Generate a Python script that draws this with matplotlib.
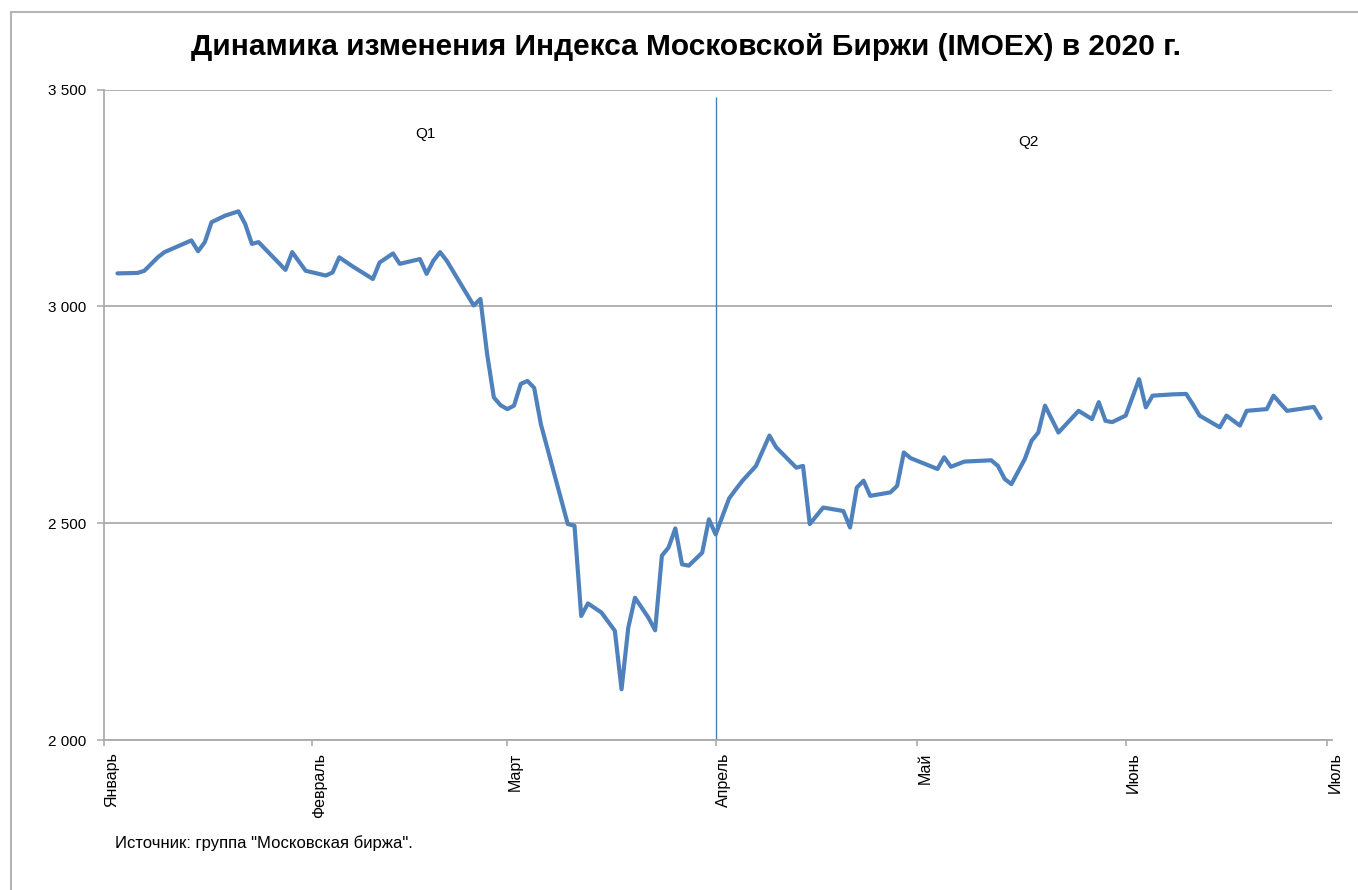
import matplotlib
matplotlib.use("Agg")
import matplotlib.pyplot as plt
import matplotlib.dates as mdates
import matplotlib.ticker as mticker
import pandas as pd
from matplotlib.patches import Rectangle

# IMOEX close
dates = [
    "2020-01-03", "2020-01-06", "2020-01-07", "2020-01-09", "2020-01-10",
    "2020-01-14", "2020-01-15", "2020-01-16", "2020-01-17", "2020-01-19",
    "2020-01-21", "2020-01-22", "2020-01-23", "2020-01-24", "2020-01-28",
    "2020-01-29", "2020-01-31", "2020-02-03", "2020-02-04", "2020-02-05",
    "2020-02-07", "2020-02-10", "2020-02-11", "2020-02-13", "2020-02-14",
    "2020-02-17", "2020-02-18", "2020-02-19", "2020-02-20", "2020-02-21",
    "2020-02-25", "2020-02-26", "2020-02-27", "2020-02-28", "2020-02-29",
    "2020-03-01", "2020-03-02", "2020-03-03", "2020-03-04", "2020-03-05",
    "2020-03-06", "2020-03-10", "2020-03-11", "2020-03-12", "2020-03-13",
    "2020-03-15", "2020-03-17", "2020-03-18", "2020-03-19", "2020-03-20",
    "2020-03-22", "2020-03-23", "2020-03-24", "2020-03-25", "2020-03-26",
    "2020-03-27", "2020-03-28", "2020-03-30", "2020-03-31", "2020-04-01",
    "2020-04-03", "2020-04-04", "2020-04-05", "2020-04-07", "2020-04-09",
    "2020-04-10", "2020-04-13", "2020-04-14", "2020-04-15", "2020-04-17",
    "2020-04-20", "2020-04-21", "2020-04-22", "2020-04-23", "2020-04-24",
    "2020-04-27", "2020-04-28", "2020-04-29", "2020-04-30", "2020-05-04",
    "2020-05-05", "2020-05-06", "2020-05-08", "2020-05-12", "2020-05-13",
    "2020-05-14", "2020-05-15", "2020-05-17", "2020-05-18", "2020-05-19",
    "2020-05-20", "2020-05-22", "2020-05-25", "2020-05-27", "2020-05-28",
    "2020-05-29", "2020-05-30", "2020-06-01", "2020-06-03", "2020-06-04",
    "2020-06-05", "2020-06-08", "2020-06-10", "2020-06-11", "2020-06-12",
    "2020-06-15", "2020-06-16", "2020-06-18", "2020-06-19", "2020-06-22",
    "2020-06-23", "2020-06-25", "2020-06-29", "2020-06-30",
]
values = [
    3076, 3077, 3082, 3113, 3125,
    3152, 3127, 3148, 3194, 3209,
    3219, 3190, 3144, 3148, 3084,
    3125, 3082, 3071, 3078, 3113,
    3092, 3063, 3101, 3122, 3098,
    3109, 3075, 3105, 3125, 3105,
    3002, 3017, 2890, 2790, 2772,
    2763, 2771, 2821, 2828, 2812,
    2728, 2498, 2494, 2286, 2315,
    2294, 2252, 2117, 2259, 2328,
    2282, 2253, 2425, 2444, 2488,
    2405, 2402, 2432, 2509, 2474,
    2557, 2578, 2598, 2632, 2702,
    2675, 2628, 2632, 2498, 2536,
    2528, 2490, 2582, 2598, 2563,
    2571, 2586, 2663, 2650, 2625,
    2652, 2630, 2642, 2645, 2632,
    2602, 2590, 2648, 2690, 2709,
    2771, 2709, 2759, 2740, 2779,
    2736, 2733, 2748, 2832, 2767,
    2794, 2797, 2798, 2774, 2748,
    2721, 2748, 2725, 2759, 2763,
    2794, 2759, 2768, 2742,
]

month_starts = ["2020-01-01", "2020-02-01", "2020-03-01", "2020-04-01",
                "2020-05-01", "2020-06-01", "2020-07-01"]
month_labels = ["Январь", "Февраль", "Март", "Апрель", "Май", "Июнь", "Июль"]
y_ticks = [2000, 2500, 3000, 3500]
quarter_split = "2020-04-01"
quarter_labels = ["Q1", "Q2"]

title = "Динамика изменения Индекса Московской Биржи (IMOEX) в 2020 г."
source = 'Источник: группа "Московская биржа".'

W, H = 1358, 890
fig = plt.figure(figsize=(W / 100, H / 100), dpi=100)
ax = fig.add_axes([104 / W, 1 - 740 / H, 1228 / W, 650.5 / H])

x = pd.to_datetime(dates)
ax.plot(x, values, color="#4F81BD", lw=3.0, solid_joinstyle="round",
        solid_capstyle="round", zorder=3)

# quarter divider
ax.vlines(pd.Timestamp(quarter_split), 2000, 3482, color="#4A7EBB", lw=1.0, zorder=2)
ax.text(0.2614, 0.932, quarter_labels[0], transform=ax.transAxes,
        fontsize=11, family="Liberation Sans", ha="center", va="center")
ax.text(0.7524, 0.920, quarter_labels[1], transform=ax.transAxes,
        fontsize=11, family="Liberation Sans", ha="center", va="center")

x0 = pd.Timestamp(month_starts[0])
ax.set_xlim(mdates.date2num(x0), mdates.date2num(pd.Timestamp(month_starts[-1])) + 0.7)
ax.set_ylim(y_ticks[0], y_ticks[-1])

ax.xaxis.set_major_locator(mticker.FixedLocator(mdates.date2num(pd.to_datetime(month_starts))))
ax.set_xticklabels(month_labels, rotation=90, ha="left", va="top",
                   fontsize=11.5, family="Liberation Sans")
ax.set_yticks(y_ticks)
ax.yaxis.set_major_formatter(mticker.FuncFormatter(lambda v, _: f"{int(v):,}".replace(",", " ")))
for lab in ax.get_yticklabels():
    lab.set_family("Liberation Sans")
    lab.set_fontsize(11)

grid_c = "#ABABAB"
ax.grid(axis="y", color=grid_c, lw=1.3, zorder=1)
ax.tick_params(axis="x", length=4, width=1.2, color=grid_c, pad=5)
ax.tick_params(axis="y", length=5, width=1.2, color=grid_c, pad=8)
for side in ("top", "right"):
    ax.spines[side].set_visible(False)
for side in ("left", "bottom"):
    ax.spines[side].set_color(grid_c)
    ax.spines[side].set_linewidth(1.3)

fig.text(686 / W, 1 - 47 / H, title, ha="center", va="center",
         fontsize=21.5, fontweight="bold", family="Liberation Sans")
fig.text(115 / W, 1 - 843 / H, source, ha="left", va="center",
         fontsize=12, family="Liberation Sans")

# chart frame, cropped at right and bottom as in the source image
fig.add_artist(Rectangle((11 / W, -0.1), 1.2, 1 - 12 / H + 0.1,
                         transform=fig.transFigure, fill=False,
                         ec="#B5B5B5", lw=1.5))

fig.savefig("out.png", dpi=100)
